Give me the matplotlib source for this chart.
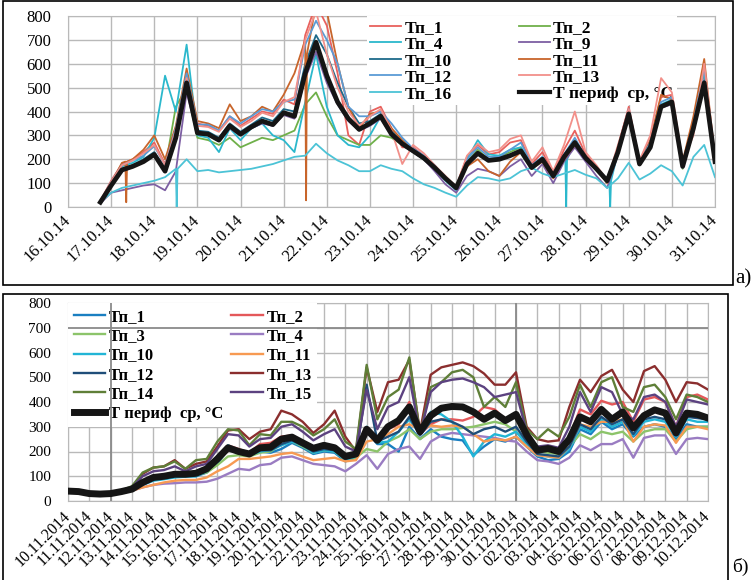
import numpy as np
import matplotlib
matplotlib.use('Agg')
import matplotlib.pyplot as plt
from matplotlib.patches import Rectangle

plt.rcParams['font.family'] = 'serif'
plt.rcParams['font.serif'] = ['Liberation Serif', 'DejaVu Serif']

# ---------------- panel a) : 16.10.14 - 31.10.14, sampled every 6 h -------------
topT = np.arange(0.75, 15.001, 0.25)   # days since 16.10.14
topDates = ['16.10.14', '17.10.14', '18.10.14', '19.10.14', '20.10.14', '21.10.14',
            '22.10.14', '23.10.14', '24.10.14', '25.10.14', '26.10.14', '27.10.14',
            '28.10.14', '29.10.14', '30.10.14', '31.10.14']

topAvg = [20, 90, 155, 170, 190, 220, 150, 290,
          520, 310, 305, 280, 340, 305, 335, 360,
          345, 395, 380, 560, 690, 550, 440, 370,
          325, 350, 380, 305, 265, 235, 205, 165,
          120, 80, 180, 225, 195, 200, 215, 235,
          165, 200, 130, 210, 270, 205, 160, 110,
          230, 390, 180, 250, 420, 440, 170, 330,
          520, 190]
tp1a = [25, 110, 180, 200, 230, 270, 180, 330,
        560, 350, 340, 320, 380, 340, 370, 400,
        390, 450, 430, 720, 850, 760, 560, 300,
        260, 400, 420, 330, 250, 250, 215, 170,
        125, 85, 210, 260, 220, 230, 270, 280,
        180, 230, 140, 240, 320, 220, 170, 100,
        250, 420, 190, 280, 460, 470, 180, 360,
        560, 200]
tp2a = [20, 95, 160, 175, 195, 225, 160, 420,
        500, 290, 280, 260, 290, 250, 270, 290,
        280, 300, 320, 430, 480, 380, 300, 280,
        260, 260, 300, 290, 260, 230, 200, 160,
        115, 75, 190, 240, 200, 210, 230, 250,
        170, 205, 130, 215, 280, 205, 160, 100,
        225, 385, 175, 245, 420, 430, 160, 330,
        510, 190]
tp4a = [20, 100, 170, 185, 210, 290, 550, 400,
        680, 300, 290, 230, 330, 280, 330, 350,
        300, 280, 230, 440, 640, 420, 300, 260,
        250, 300, 380, 320, 260, 230, 200, 160,
        110, 70, 200, 280, 220, 215, 240, 250,
        170, 210, 130, 215, 270, 210, 165, 100,
        230, 395, 180, 250, 430, 450, 165, 340,
        570, 190]
tp9a = [15, 60, 70, 80, 90, 95, 70, 150,
        480, 305, 300, 275, 330, 300, 330, 350,
        340, 385, 370, 540, 650, 520, 430, 360,
        320, 340, 370, 300, 260, 230, 200, 150,
        95, 60, 130, 160, 150, 130, 170, 200,
        130, 180, 100, 190, 250, 190, 130, 80,
        220, 385, 175, 245, 415, 430, 165, 320,
        510, 185]
tp10a = [20, 95, 160, 175, 200, 230, 160, 300,
         530, 320, 315, 290, 350, 315, 345, 375,
         360, 410, 400, 600, 720, 640, 520, 420,
         350, 360, 390, 315, 275, 240, 210, 170,
         120, 80, 185, 230, 200, 205, 220, 240,
         170, 205, 135, 215, 275, 210, 165, 105,
         235, 395, 185, 255, 425, 445, 175, 335,
         530, 195]
tp11a = [20, 100, 185, 200, 240, 300, 200, 340,
         580, 360, 350, 330, 430, 360, 380, 420,
         400, 470, 560, 700, 850, 820, 600, 420,
         330, 390, 400, 330, 280, 240, 210, 170,
         120, 75, 170, 200, 150, 130, 190, 230,
         160, 190, 120, 200, 260, 210, 160, 100,
         230, 400, 180, 280, 470, 450, 190, 380,
         620, 200]
tp12a = [22, 105, 175, 195, 215, 255, 175, 330,
         560, 345, 345, 320, 380, 350, 380, 410,
         400, 440, 450, 680, 780, 700, 600, 420,
         380, 380, 400, 350, 290, 245, 215, 175,
         120, 80, 200, 250, 210, 210, 240, 270,
         175, 210, 135, 220, 290, 210, 165, 105,
         240, 410, 185, 270, 440, 460, 175, 350,
         580, 200]
tp13a = [25, 105, 175, 195, 225, 260, 175, 320,
         540, 340, 335, 315, 370, 335, 360, 395,
         380, 440, 460, 700, 820, 640, 500, 400,
         340, 380, 410, 320, 180, 260, 225, 175,
         130, 85, 215, 265, 230, 240, 285, 300,
         190, 250, 150, 260, 400, 230, 175, 110,
         260, 410, 195, 300, 540, 480, 190, 300,
         600, 210]
tp16a = [20, 60, 80, 90, 100, 110, 125, 160,
         200, 150, 155, 145, 150, 155, 160, 170,
         180, 195, 210, 215, 265, 225, 195, 175,
         150, 150, 175, 160, 150, 120, 95, 80,
         60, 43, 90, 125, 120, 110, 120, 150,
         165, 140, 125, 140, 155, 135, 120, 80,
         120, 185, 115, 140, 175, 150, 90, 210,
         260, 125]
# sensor drop-outs: (day, level around, level of the drop)
tp11Dips = [(1.35, 190, 20), (5.52, 640, 28)]
tp4Dips = [(11.55, 200, 0), (12.57, 110, 0)]
tp16Dips = [(2.52, 160, 0)]

# ---------------- panel б) : 10.11.2014 - 10.12.2014, every 12 h ----------------
botT = np.arange(0, 30.001, 0.5)   # days since 10.11.2014
botDates = ['10.11.2014', '11.11.2014', '12.11.2014', '13.11.2014', '14.11.2014',
            '15.11.2014', '16.11.2014', '17.11.2014', '18.11.2014', '19.11.2014',
            '20.11.2014', '21.11.2014', '22.11.2014', '23.11.2014', '24.11.2014',
            '25.11.2014', '26.11.2014', '27.11.2014', '28.11.2014', '29.11.2014',
            '30.11.2014', '01.12.2014', '02.12.2014', '03.12.2014', '04.12.2014',
            '05.12.2014', '06.12.2014', '07.12.2014', '08.12.2014', '09.12.2014',
            '10.12.2014']

botAvg = [40, 38, 30, 28, 30, 38, 48, 75, 95, 100,
          108, 108, 112, 130, 170, 215, 200, 190, 215, 218,
          250, 258, 235, 213, 225, 215, 180, 190, 290, 245,
          300, 325, 380, 280, 345, 375, 382, 380, 360, 330,
          355, 325, 350, 267, 205, 212, 200, 250, 340, 320,
          370, 330, 360, 295, 345, 368, 355, 275, 355, 350,
          335]
tp1b = [40, 38, 30, 28, 30, 38, 45, 65, 85, 90,
        98, 100, 100, 115, 150, 210, 200, 185, 200, 195,
        210, 235, 215, 190, 200, 195, 160, 175, 280, 230,
        230, 200, 300, 250, 290, 260, 250, 245, 185, 220,
        250, 240, 260, 220, 180, 165, 170, 200, 290, 270,
        320, 290, 310, 260, 300, 310, 300, 250, 310, 300,
        300]
tp2b = [42, 40, 32, 30, 32, 40, 50, 80, 100, 105,
        112, 110, 115, 130, 175, 225, 210, 195, 230, 235,
        260, 265, 240, 215, 225, 220, 180, 185, 290, 240,
        290, 310, 400, 270, 310, 330, 330, 325, 340, 380,
        370, 330, 350, 260, 210, 215, 205, 260, 370, 350,
        405, 390, 400, 320, 410, 420, 400, 300, 420, 430,
        410]
tp3b = [40, 38, 30, 28, 30, 40, 52, 75, 90, 95,
        100, 100, 105, 115, 145, 180, 185, 180, 195, 200,
        230, 240, 220, 195, 205, 200, 165, 175, 210, 200,
        240, 260, 290, 250, 280, 290, 290, 295, 300, 310,
        320, 310, 280, 240, 200, 195, 190, 220, 270, 250,
        280, 270, 280, 240, 280, 290, 290, 240, 290, 300,
        300]
tp4b = [40, 38, 30, 28, 30, 35, 42, 55, 65, 70,
        72, 75, 75, 78, 90, 110, 130, 125, 145, 150,
        175, 180, 165, 150, 145, 140, 120, 150, 185, 130,
        190, 210, 220, 170, 240, 265, 275, 270, 265, 260,
        255, 245, 240, 200, 165, 160, 150, 175, 225, 205,
        230, 230, 250, 175, 255, 265, 265, 190, 250, 255,
        250]
tp10b = [40, 38, 30, 28, 30, 38, 45, 65, 82, 88,
         95, 98, 100, 120, 165, 225, 205, 185, 200, 205,
         225, 240, 225, 195, 205, 200, 165, 180, 300, 235,
         240, 280, 330, 270, 360, 350, 320, 260, 180, 240,
         270, 260, 280, 230, 185, 180, 175, 210, 300, 280,
         330, 300, 320, 265, 320, 330, 320, 260, 330, 320,
         320]
tp11b = [40, 38, 30, 28, 30, 36, 42, 55, 65, 75,
         82, 85, 85, 95, 120, 140, 170, 170, 175, 180,
         190, 195, 180, 165, 170, 175, 160, 165, 240, 250,
         270, 300, 310, 290, 305, 300, 305, 300, 270, 240,
         250, 245, 260, 220, 185, 180, 175, 220, 310, 300,
         320, 320, 330, 240, 300, 310, 305, 235, 300, 300,
         290]
tp12b = [40, 38, 30, 28, 30, 38, 46, 70, 90, 95,
         102, 104, 105, 125, 160, 215, 200, 190, 205, 205,
         230, 245, 225, 200, 210, 205, 170, 185, 470, 240,
         260, 280, 340, 265, 320, 330, 320, 300, 270, 290,
         300, 280, 300, 240, 190, 185, 180, 220, 310, 290,
         340, 310, 330, 270, 330, 340, 330, 265, 340, 335,
         330]
tp13b = [42, 40, 32, 30, 32, 40, 55, 110, 135, 140,
         165, 130, 150, 160, 220, 285, 290, 250, 280, 290,
         365, 350, 320, 275, 310, 365, 260, 200, 540, 360,
         480, 490, 570, 280, 510, 540, 550, 560, 545, 515,
         470, 470, 520, 300, 250, 240, 245, 380, 490, 440,
         505, 530, 450, 400, 525, 545, 490, 400, 480, 475,
         450]
tp14b = [42, 40, 32, 30, 32, 42, 60, 115, 135, 140,
         160, 130, 165, 170, 240, 290, 285, 225, 270, 265,
         320, 320, 300, 265, 290, 330, 240, 210, 550, 330,
         420, 450, 580, 270, 460, 480, 520, 530, 500, 380,
         420, 380, 480, 290, 250, 290, 260, 340, 470, 380,
         480, 500, 380, 360, 460, 470, 420, 330, 430, 420,
         400]
tp15b = [42, 40, 32, 30, 32, 40, 55, 100, 120, 125,
         140, 120, 140, 150, 210, 270, 265, 220, 250, 255,
         300, 310, 280, 245, 270, 290, 220, 200, 450, 290,
         380, 400, 500, 270, 440, 480, 490, 495, 480, 460,
         420, 430, 440, 280, 220, 225, 215, 300, 440, 360,
         460, 440, 350, 330, 420, 430, 400, 300, 410, 400,
         390]

W, H = 753, 580
GRID = '#b9b9b9'


def withDips(t, v, dips):
    # put short vertical drop-outs into a series
    t = list(t)
    v = list(v)
    for td, base, low in dips:
        i = int(np.searchsorted(t, td))
        t[i:i] = [td - 0.02, td, td + 0.02]
        v[i:i] = [base, low, base]
    return t, v


def pxAxes(fig, left, top, right, bottom):
    return fig.add_axes([left / W, 1 - bottom / H, (right - left) / W, (bottom - top) / H])


def styleAxes(ax, labels, ysize, xsize, xpad):
    n = len(labels) - 1
    ax.set_xlim(0, n)
    ax.set_ylim(0, 800)
    ax.set_xticks(range(n + 1))
    ax.set_xticklabels(labels, rotation=45, ha='right', va='center',
                       rotation_mode='anchor', fontsize=xsize)
    ax.set_yticks(range(0, 801, 100))
    ax.tick_params(length=0)
    ax.tick_params(axis='y', labelsize=ysize, pad=12)
    ax.tick_params(axis='x', pad=xpad)
    ax.grid(True, color=GRID, lw=1)
    ax.set_axisbelow(True)
    for s in ax.spines.values():
        s.set_color(GRID)


def plotTop(ax):
    lines = {}
    series = [('Тп_1', topT, tp1a, '#e8615d', []),
              ('Тп_2', topT, tp2a, '#6fb04a', []),
              ('Тп_4', topT, tp4a, '#2bb8cc', tp4Dips),
              ('Тп_9', topT, tp9a, '#7d5fa3', []),
              ('Тп_10', topT, tp10a, '#1e6a8a', []),
              ('Тп_11', topT, tp11a, '#c8652b', tp11Dips),
              ('Тп_12', topT, tp12a, '#5b9bd5', []),
              ('Тп_13', topT, tp13a, '#f2908a', []),
              ('Тп_16', topT, tp16a, '#4cc3d6', tp16Dips)]
    for name, t, v, c, dips in series:
        tt, vv = withDips(t, v, dips)
        lines[name], = ax.plot(tt, vv, color=c, lw=1.3, zorder=3)
    lines['avg'], = ax.plot(topT, topAvg, color='#151515', lw=3.4, zorder=4)

    styleAxes(ax, topDates, 12, 12, 8)
    order = ['Тп_1', 'Тп_4', 'Тп_10', 'Тп_12', 'Тп_16',
             'Тп_2', 'Тп_9', 'Тп_11', 'Тп_13', 'avg']
    names = [n if n != 'avg' else 'Т периф  ср, °C' for n in order]
    leg = ax.legend([lines[n] for n in order], names, ncol=2, loc='upper left',
                    bbox_to_anchor=(0.462, 1.0), borderaxespad=0, borderpad=0.2,
                    handlelength=1.75, handletextpad=0.2, columnspacing=3.9,
                    labelspacing=0.02, frameon=True, fancybox=False,
                    facecolor='white', edgecolor='none', framealpha=1,
                    prop={'weight': 'bold', 'size': 12.5})
    leg.legend_handles[-1].set_linewidth(3)
    leg.set_zorder(2.5)


def plotBottom(ax):
    lines = {}
    series = [('Тп_1', tp1b, '#1a7fc1'),
              ('Тп_2', tp2b, '#e4585a'),
              ('Тп_3', tp3b, '#8cc46a'),
              ('Тп_4', tp4b, '#9a7cc2'),
              ('Тп_10', tp10b, '#22b5d6'),
              ('Тп_11', tp11b, '#f79a52'),
              ('Тп_12', tp12b, '#1f4e79'),
              ('Тп_13', tp13b, '#8b2e2e'),
              ('Тп_14', tp14b, '#5f7f38'),
              ('Тп_15', tp15b, '#5c4280')]
    for name, v, c in series:
        lines[name], = ax.plot(botT, v, color=c, lw=1.7, zorder=3)
    lines['avg'], = ax.plot(botT, botAvg, color='#151515', lw=5, zorder=4)

    styleAxes(ax, botDates, 11, 11.5, 9)
    # darker reference lines
    ax.axhline(700, color='#8a8a8a', lw=1.3, zorder=2.7)
    ax.axvline(2, color='#8a8a8a', lw=1.3, zorder=2.7)
    ax.axvline(21, color='#8a8a8a', lw=1.3, zorder=2.7)

    order = ['Тп_1', 'Тп_3', 'Тп_10', 'Тп_12', 'Тп_14', 'avg',
             'Тп_2', 'Тп_4', 'Тп_11', 'Тп_13', 'Тп_15']
    names = [n if n != 'avg' else 'Т периф  ср, °C' for n in order]
    leg = ax.legend([lines[n] for n in order], names, ncol=2, loc='upper left',
                    bbox_to_anchor=(0.0, 1.0), borderaxespad=0, borderpad=0.35,
                    handlelength=1.9, handletextpad=0.2, columnspacing=0.5,
                    labelspacing=0.2, frameon=True, fancybox=False,
                    facecolor='white', edgecolor='none', framealpha=1,
                    prop={'weight': 'bold', 'size': 12})
    leg.set_zorder(2.5)


###################  main  ###################
if __name__ == "__main__":
    fig = plt.figure(figsize=(W / 100, H / 100), dpi=100)
    axTop = pxAxes(fig, 68, 16, 715, 207)
    axBot = pxAxes(fig, 68, 303, 708, 501)
    plotTop(axTop)
    plotBottom(axBot)

    # outer frames and panel letters
    fig.add_artist(Rectangle((3 / W, 1 - 285 / H), 730 / W, 284 / H,
                             transform=fig.transFigure, fill=False, ec='black', lw=1.2))
    fig.add_artist(Rectangle((3 / W, -0.01), 725 / W, 1 - 294 / H + 0.01,
                             transform=fig.transFigure, fill=False, ec='black', lw=1.2))
    fig.text(735 / W, 1 - 283 / H, 'a)', fontsize=15, va='baseline')
    fig.text(732 / W, 1 - 572 / H, 'б)', fontsize=14, va='baseline')

    fig.savefig('out.png', dpi=100)
